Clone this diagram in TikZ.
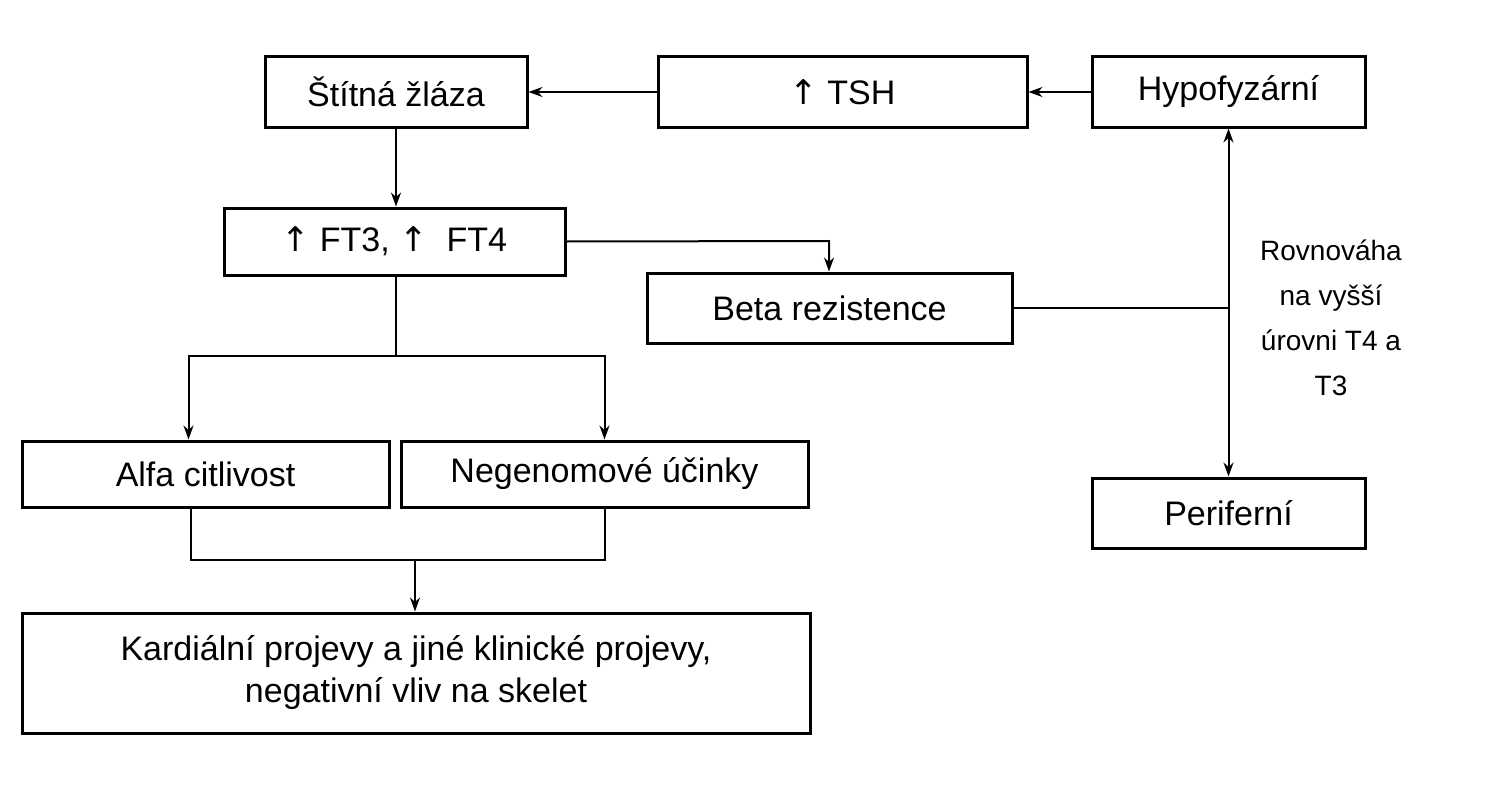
\documentclass[tikz,border=0pt]{standalone}
\usepackage{fontspec}
\setmainfont{Liberation Sans}
\newfontfamily\dv{DejaVu Sans}
\usetikzlibrary{arrows.meta}
\newcommand{\up}{{\dv ↑}}
\begin{document}
\begin{tikzpicture}[x=1pt,y=-1pt,
  box/.style={draw,line width=3pt,inner sep=0pt,font=\fontsize{34}{42}\selectfont,align=center},
  ln/.style={line width=2pt},
  ar/.style={ln,-{Stealth[length=14pt,width=10pt]}}]
\useasboundingbox (0,0) rectangle (1505,800);
\node[box,minimum width=262pt,minimum height=70pt] (stit) at (396,92) {Štítná žláza};
\node[box,minimum width=369pt,minimum height=70pt] (tsh) at (842.5,92) {\up\ TSH};
\node[box,minimum width=273pt,minimum height=70pt] (hyp) at (1228.5,92) {Hypofyzární};
\node[box,minimum width=341pt,minimum height=67pt] (ft) at (394.5,241.5) {\up\ FT3, \up\ \ FT4};
\node[box,minimum width=365pt,minimum height=70pt] (beta) at (829.5,308) {Beta rezistence};
\node[box,minimum width=367pt,minimum height=66pt] (alfa) at (205.5,474) {Alfa citlivost};
\node[box,minimum width=407pt,minimum height=66pt] (neg) at (604.5,474) {Negenomové účinky};
\node[box,minimum width=273pt,minimum height=70pt] (per) at (1228.5,513) {Periferní};
\node[box,minimum width=788pt,minimum height=120pt] (kar) at (416,673) {Kardiální projevy a jiné klinické projevy,\\negativní vliv na skelet};
\node[align=center,font=\fontsize{28}{45}\selectfont] (rov) at (1331,318) {Rovnováha\\na vyšší\\úrovni T4 a\\T3};
\coordinate (j1) at (1228,308);
\coordinate (c1) at (829,241);
\coordinate (c2) at (396,356);
\coordinate (c3) at (415,560);
\draw[ar] (tsh.west) -- (stit.east);
\draw[ar] (hyp.west) -- (tsh.east);
\draw[ar] (stit.south) -- (ft.north -| stit.south);
\draw[ar] (ft.east) -- (c1) -- (beta.north -| c1);
\draw[ln] (beta.east) -- (j1);
\draw[ln,{Stealth[length=14pt,width=10pt]}-{Stealth[length=14pt,width=10pt]}] (hyp.south) -- (per.north);
\draw[ln] (ft.south -| c2) -- (c2);
\draw[ar] (c2) -| ([xshift=-17pt]alfa.north);
\draw[ar] (c2) -| (neg.north);
\draw[ln] ([xshift=-15pt]alfa.south) |- (c3);
\draw[ln] (neg.south) |- (c3);
\draw[ar] (c3) -- (kar.north -| c3);
\end{tikzpicture}
\end{document}
